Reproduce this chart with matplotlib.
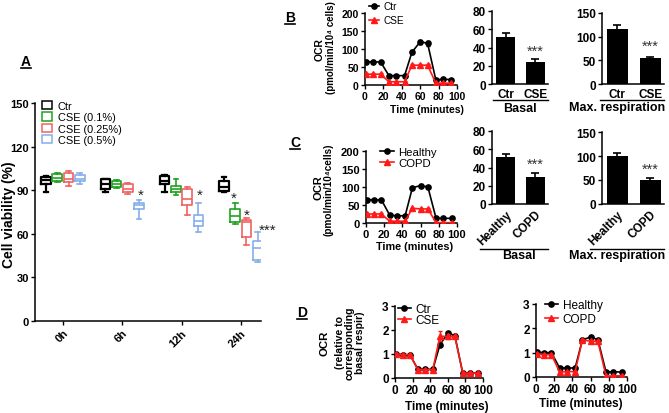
import matplotlib
matplotlib.use('Agg')
import matplotlib.pyplot as plt
from matplotlib.lines import Line2D
from matplotlib.patches import Patch

plt.rcParams['font.family'] = ['Liberation Sans', 'DejaVu Sans']
plt.rcParams['font.weight'] = 'bold'
plt.rcParams['axes.linewidth'] = 1.1
plt.rcParams['xtick.major.width'] = 1.0
plt.rcParams['ytick.major.width'] = 1.0
plt.rcParams['xtick.major.size'] = 3
plt.rcParams['ytick.major.size'] = 3
plt.rcParams['xtick.major.pad'] = 1.5
plt.rcParams['ytick.major.pad'] = 1.5

# ---------------- data ----------------
# Panel A: cell viability boxes (min, q1, median, q3, max)
time_labels = ['0h', '6h', '12h', '24h']
group_names = ['Ctr', 'CSE (0.1%)', 'CSE (0.25%)', 'CSE (0.5%)']
group_colors = ['#000000', '#1FA31F', '#F06262', '#86AEEA']
ctr_box = [(89, 94, 97, 99, 100), (89, 90.5, 94.5, 97.5, 98),
           (88.5, 94, 96.5, 99.5, 100.5), (89, 89.5, 92.5, 96.5, 99)]
cse01_box = [(95.5, 96.5, 98.5, 101, 102), (91.5, 92.5, 94.5, 96, 97),
             (86.5, 88.5, 90.5, 93, 98), (66.5, 68, 72.5, 77, 81)]
cse025_box = [(93, 95.5, 98, 101.5, 103.5), (87.5, 88.5, 91, 94, 95),
              (73, 79.5, 84, 90.5, 92), (52.5, 57.5, 68, 69.5, 71)]
cse05_box = [(94, 96, 98, 100.5, 102), (70.5, 77, 80, 81.5, 83),
             (61, 65.5, 68.5, 73, 81), (40.5, 42, 50, 55, 61)]
star_x = [1.31, 2.31, 2.88, 3.10, 3.45]
star_y = [87, 87, 85, 73, 63]
star_txt = ['*', '*', '*', '*', '***']

# OCR time course
time_min = [1, 9, 17, 26, 34, 43, 51, 60, 68, 77, 85, 94]
b_ctr = [65, 64, 64, 26, 26, 26, 91, 120, 116, 14, 16, 15]
b_ctr_err = [5, 4, 4, 3, 3, 3, 5, 5, 7, 3, 3, 3]
b_cse = [30, 30, 30, 9, 9, 9, 55, 55, 55, 5, 5, 5]
b_cse_err = [2, 2, 2, 1, 1, 1, 3, 3, 3, 1, 1, 1]
c_healthy = [65, 64, 64, 22, 20, 20, 98, 104, 100, 13, 13, 13]
c_healthy_err = [3, 3, 3, 2, 2, 2, 3, 3, 3, 2, 2, 2]
c_copd = [25, 25, 25, 5, 5, 5, 41, 39, 39, 1, 1, 1]
c_copd_err = [2, 2, 2, 1, 1, 1, 2, 2, 2, 1, 1, 1]
d_ctr = [1.0, 0.97, 0.97, 0.36, 0.36, 0.36, 1.38, 1.87, 1.77, 0.2, 0.2, 0.2]
d_ctr_err = [0.05, 0.05, 0.05, 0.04, 0.04, 0.04, 0.06, 0.06, 0.06, 0.03, 0.03, 0.03]
d_cse = [1.0, 0.97, 0.97, 0.35, 0.35, 0.35, 1.74, 1.73, 1.73, 0.2, 0.2, 0.2]
d_cse_err = [0.05, 0.05, 0.05, 0.04, 0.04, 0.04, 0.2, 0.1, 0.08, 0.03, 0.03, 0.03]
d_healthy = [1.02, 1.0, 1.0, 0.37, 0.37, 0.37, 1.53, 1.64, 1.54, 0.2, 0.22, 0.2]
d_healthy_err = [0.04, 0.04, 0.04, 0.03, 0.03, 0.03, 0.04, 0.05, 0.04, 0.03, 0.03, 0.03]
d_copd = [0.95, 0.92, 0.92, 0.2, 0.22, 0.22, 1.53, 1.47, 1.47, 0.03, 0.05, 0.05]
d_copd_err = [0.04, 0.04, 0.04, 0.03, 0.03, 0.03, 0.04, 0.05, 0.04, 0.03, 0.03, 0.03]

# bar charts
b_groups = ['Ctr', 'CSE']
b_basal = [51, 24]
b_basal_err = [5, 3.5]
b_max = [117, 54]
b_max_err = [7, 4]
c_groups = ['Healthy', 'COPD']
c_basal = [51, 30]
c_basal_err = [3.5, 3.5]
c_max = [101, 51]
c_max_err = [6, 4]

RED = '#FF1A1A'

# ---------------- layout helpers ----------------
W, H = 669, 414
fig = plt.figure(figsize=(W / 100, H / 100), dpi=100)


def add_ax(l, t, r, b):
    ax = fig.add_axes([l / W, 1 - b / H, (r - l) / W, (b - t) / H])
    for s in ('top', 'right'):
        ax.spines[s].set_visible(False)
    return ax


def ftext(x, y, s, **kw):
    kw.setdefault('ha', 'center')
    kw.setdefault('va', 'center')
    return fig.text(x / W, 1 - y / H, s, **kw)


def fline(x0, x1, y, lw=1.0):
    fig.add_artist(Line2D([x0 / W, x1 / W], [1 - y / H, 1 - y / H],
                          color='k', lw=lw, transform=fig.transFigure))


def panel_label(x, y, s):
    ftext(x, y, s, fontsize=10, fontweight='bold')
    fline(x - 5, x + 5, y + 7, lw=1.2)


# ---------------- Panel A ----------------
axA = add_ax(35, 104, 261, 322)
offsets = [-1.5, -0.5, 0.5, 1.5]
for gi, (data, c) in enumerate(zip([ctr_box, cse01_box, cse025_box, cse05_box], group_colors)):
    stats = [dict(whislo=d[0], q1=d[1], med=d[2], q3=d[3], whishi=d[4], fliers=[]) for d in data]
    pos = [i + offsets[gi] * 0.19 for i in range(len(data))]
    lw = 1.6 if gi == 0 else 1.2
    pr = dict(color=c, lw=lw)
    axA.bxp(stats, positions=pos, widths=0.16, capwidths=0.08, showfliers=False,
            boxprops=pr, whiskerprops=pr, capprops=pr, medianprops=pr, manage_ticks=False)
for x, y, t in zip(star_x, star_y, star_txt):
    axA.text(x, y, t, ha='center', va='center', fontsize=11, color='#222222',
             fontweight='normal', clip_on=False)
axA.set_xlim(-0.47, 3.34)
axA.set_ylim(0, 150)
axA.set_yticks([0, 30, 60, 90, 120, 150])
axA.set_xticks(range(len(time_labels)))
axA.set_xticklabels(time_labels, rotation=45, ha='right', rotation_mode='anchor')
axA.tick_params(labelsize=8)
handles = [Patch(facecolor='white', edgecolor=c, lw=1.1) for c in group_colors]
axA.legend(handles, group_names, loc='upper left', bbox_to_anchor=(42 / W, 1 - 102 / H),
           bbox_transform=fig.transFigure, frameon=False, borderpad=0, borderaxespad=0,
           handlelength=0.9, handleheight=0.8, handletextpad=0.55, labelspacing=0.12,
           prop=dict(size=7.9, weight='normal'))
ftext(9, 215, 'Cell viability (%)', rotation=90, fontsize=10, fontweight='bold')
panel_label(26, 62, 'A')


# ---------------- line panels ----------------
def line_panel(box, ys, errs, names, ylim, yticks, leg_anchor, leg_size, leg_sp, leg_hl, tsize):
    ax = add_ax(*box)
    ax.errorbar(time_min, ys[0], yerr=errs[0], color='k', marker='o', ms=3.8, lw=1.2,
                capsize=1.5, elinewidth=1, zorder=3)
    ax.errorbar(time_min, ys[1], yerr=errs[1], color=RED, marker='^', ms=4.2, lw=1.2,
                capsize=1.5, elinewidth=1, zorder=4)
    ax.set_xlim(0, 100)
    ax.set_ylim(*ylim)
    ax.set_xticks([0, 20, 40, 60, 80, 100])
    ax.set_yticks(yticks)
    ax.tick_params(labelsize=tsize)
    hs = [Line2D([], [], color='k', marker='o', ms=3.8, lw=1.2),
          Line2D([], [], color=RED, marker='^', ms=4.2, lw=1.2)]
    ax.legend(hs, names, loc='upper left', bbox_to_anchor=(leg_anchor[0] / W, 1 - leg_anchor[1] / H),
              bbox_transform=fig.transFigure, frameon=False, borderpad=0, borderaxespad=0,
              handlelength=leg_hl, handletextpad=0.4, labelspacing=leg_sp,
              prop=dict(size=leg_size, weight='normal'))
    return ax


def bar_panel(box, vals, errs, names, ylim, yticks, rot, star_y):
    ax = add_ax(*box)
    ax.bar(range(len(vals)), vals, width=0.64, color='k', yerr=errs,
           error_kw=dict(ecolor='k', capsize=3, elinewidth=1.2, capthick=1.2))
    ax.set_xlim(-0.46, 1.42)
    ax.set_ylim(*ylim)
    ax.set_yticks(yticks)
    ax.set_xticks(range(len(vals)))
    if rot:
        ax.set_xticklabels(names, rotation=45, ha='right', rotation_mode='anchor')
    else:
        ax.set_xticklabels(names)
    ax.tick_params(labelsize=8.5)
    ax.tick_params(axis='x', length=0, pad=3)
    ax.text(1, star_y, '***', ha='center', va='center', fontsize=10.5, color='#333333',
            fontweight='normal')
    return ax


# Panel B
line_panel((365, 14, 457, 86), (b_ctr, b_cse), (b_ctr_err, b_cse_err), b_groups,
           (0, 200), [0, 50, 100, 150, 200], (369, 2.5), 7.2, 0.35, 1.0, 7.5)
ftext(320, 50, 'OCR', rotation=90, fontsize=7.5, fontweight='bold')
ftext(331, 48, '(pmol/min/10\u2074 cells)', rotation=90, fontsize=7, fontweight='bold')
ftext(427, 110, 'Time (minutes)', fontsize=7.5, fontweight='bold')
panel_label(290, 18, 'B')

bar_panel((492, 12, 548, 85), b_basal, b_basal_err, b_groups, (0, 80), [0, 20, 40, 60, 80],
          False, 36)
fline(493, 548, 100.5)
ftext(520, 108.5, 'Basal', fontsize=9, fontweight='bold')
bar_panel((602, 14, 664, 85), b_max, b_max_err, b_groups, (0, 150), [0, 50, 100, 150],
          False, 80)
fline(600, 664, 100.5)
ftext(617, 108.5, 'Max. respiration', fontsize=9, fontweight='bold')

# Panel C
line_panel((366, 152, 457, 224), (c_healthy, c_copd), (c_healthy_err, c_copd_err), c_groups,
           (0, 200), [0, 50, 100, 150, 200], (380, 147.5), 8.2, 0.1, 1.2, 8)
ftext(318, 188, 'OCR', rotation=90, fontsize=8, fontweight='bold')
ftext(329, 190, '(pmol/min/10\u2074cells)', rotation=90, fontsize=7.2, fontweight='bold')
ftext(415, 247, 'Time (minutes)', fontsize=7.8, fontweight='bold')
panel_label(295, 143, 'C')

bar_panel((492, 132, 548, 205), c_basal, c_basal_err, c_groups, (0, 80), [0, 20, 40, 60, 80],
          True, 44)
fline(480, 548, 250)
ftext(519, 256.5, 'Basal', fontsize=9, fontweight='bold')
bar_panel((602, 133, 664, 205), c_max, c_max_err, c_groups, (0, 150), [0, 50, 100, 150],
          True, 73)
fline(590, 664, 250)
ftext(617, 256.5, 'Max. respiration', fontsize=9, fontweight='bold')

# Panel D
line_panel((395, 307, 483, 379), (d_ctr, d_cse), (d_ctr_err, d_cse_err), b_groups,
           (0, 3), [0, 1, 2, 3], (398, 304), 8.5, -0.1, 1.1, 8.5)
ftext(325, 343, 'OCR', rotation=90, fontsize=8.2, fontweight='bold')
ftext(350, 343, '(relative to\ncorresponding\nbasal respir)', rotation=90, fontsize=7.6,
      fontweight='bold', linespacing=1.0)
ftext(447, 407, 'Time (minutes)', fontsize=8.5, fontweight='bold')
panel_label(302, 313, 'D')

line_panel((536, 305, 627, 378), (d_healthy, d_copd), (d_healthy_err, d_copd_err), c_groups,
           (0, 3), [0, 1, 2, 3], (545, 300), 8.5, 0.2, 1.1, 8.5)
ftext(581, 404, 'Time (minutes)', fontsize=8.5, fontweight='bold')

fig.savefig('out.png', dpi=100)
